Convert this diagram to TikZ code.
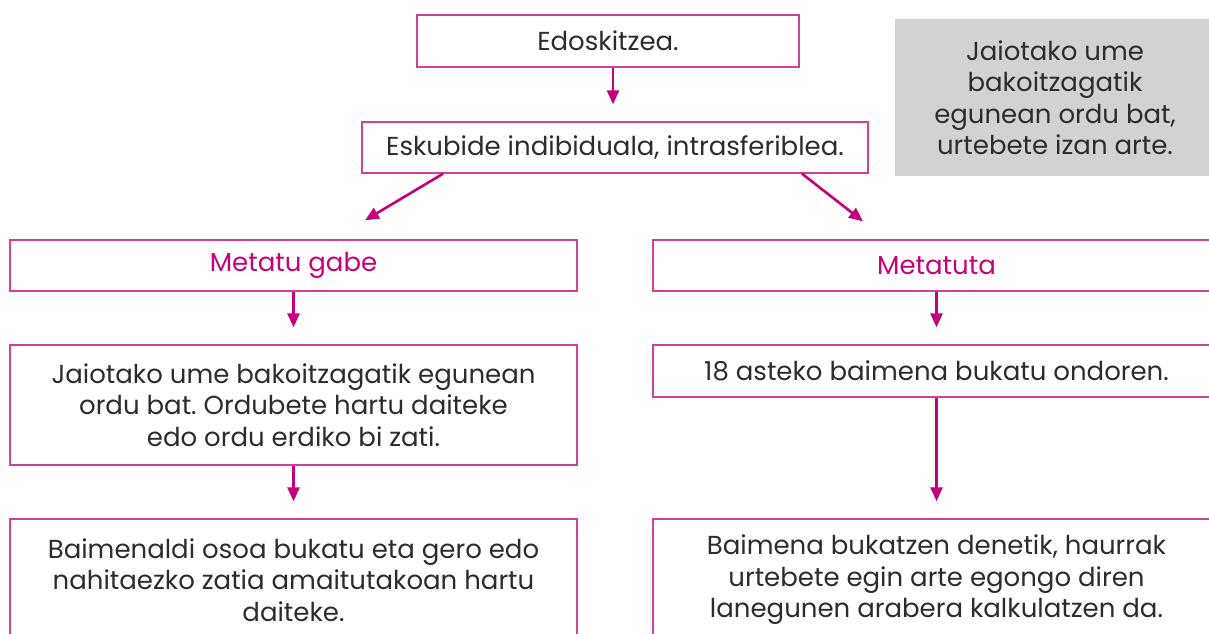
\documentclass[tikz,border=0pt]{standalone}
\usepackage{fontspec}
\setmainfont[Ligatures=NoCommon]{Poppins}
\usepackage{xcolor}
\usepackage{tikz}
\usetikzlibrary{positioning,arrows.meta}

\definecolor{magline}{HTML}{D2409A}
\definecolor{magarrow}{HTML}{C4007A}
\definecolor{magtext}{HTML}{C8007A}
\definecolor{greybox}{HTML}{D1D2D4}
\definecolor{inktext}{HTML}{2E2B2C}
\frenchspacing

\begin{document}
\begin{tikzpicture}[x=1pt, y=-1pt,
    font=\fontsize{26}{31.5}\selectfont, text=inktext,
    block/.style={rectangle, draw=magline, line width=1.4pt, fill=white, align=center, inner sep=0pt},
    note/.style={rectangle, fill=greybox, align=center, inner sep=0pt},
    arrow/.style={-{Triangle[length=14pt,width=12pt]}, draw=magarrow, line width=2.6pt, shorten >=17pt}]

    \useasboundingbox (0,0) rectangle (1209,633);
    \clip (0,0) rectangle (1209,633);

    % Top of the tree
    \node[block, minimum width=382pt, minimum height=52pt] (edo) at (608,41) {Edoskitzea.};
    \node[block, minimum width=506pt, minimum height=51pt] (esk) at (615,147.5) {Eskubide indibiduala, intrasferiblea.};

    % Side note
    \node[note, minimum width=320pt, minimum height=157pt] (ohar) at (1055,97.5)
        {Jaiotako ume\\bakoitzagatik\\egunean ordu bat,\\urtebete izan arte.};

    % Two branches
    \node[block, minimum width=567pt, minimum height=51pt, text=magtext] (gabe) at (293.5,265.5) {Metatu gabe};
    \node[block, minimum width=567pt, minimum height=51pt, text=magtext] (metatu) at (936.5,265.5) {Metatuta};

    % Second row
    \node[block, minimum width=567pt, minimum height=120pt] (ordu) at (293.5,405)
        {Jaiotako ume bakoitzagatik egunean\\ordu bat. Ordubete hartu daiteke\\edo ordu erdiko bi zati.};
    \node[block, minimum width=567pt, minimum height=52pt] (aste) at (936.5,371)
        {18 asteko baimena bukatu ondoren.};

    % Bottom row
    \node[block, minimum width=567pt, minimum height=122pt] (osoa) at (293.5,580)
        {Baimenaldi osoa bukatu eta gero edo\\nahitaezko zatia amaitutakoan hartu\\daiteke.};
    \node[block, minimum width=567pt, minimum height=122pt] (kalk) at (936.5,580)
        {Baimena bukatzen denetik, haurrak\\urtebete egin arte egongo diren\\lanegunen arabera kalkulatzen da.};

    % Connect components
    \draw[arrow] ([xshift=5pt]edo.south) -- ([xshift=5pt]edo.south |- esk.north);
    \draw[arrow, shorten >=0pt] ([xshift=-172pt]esk.south) -- ([xshift=71.5pt,yshift=19pt]gabe.north);
    \draw[arrow, shorten >=0pt] ([xshift=187pt]esk.south) -- ([xshift=-73.5pt,yshift=18pt]metatu.north);
    \draw[arrow] (gabe.south) -- (ordu.north);
    \draw[arrow] (ordu.south) -- (osoa.north);
    \draw[arrow] (metatu.south) -- (aste.north);
    \draw[arrow] (aste.south) -- (kalk.north);
\end{tikzpicture}
\end{document}
